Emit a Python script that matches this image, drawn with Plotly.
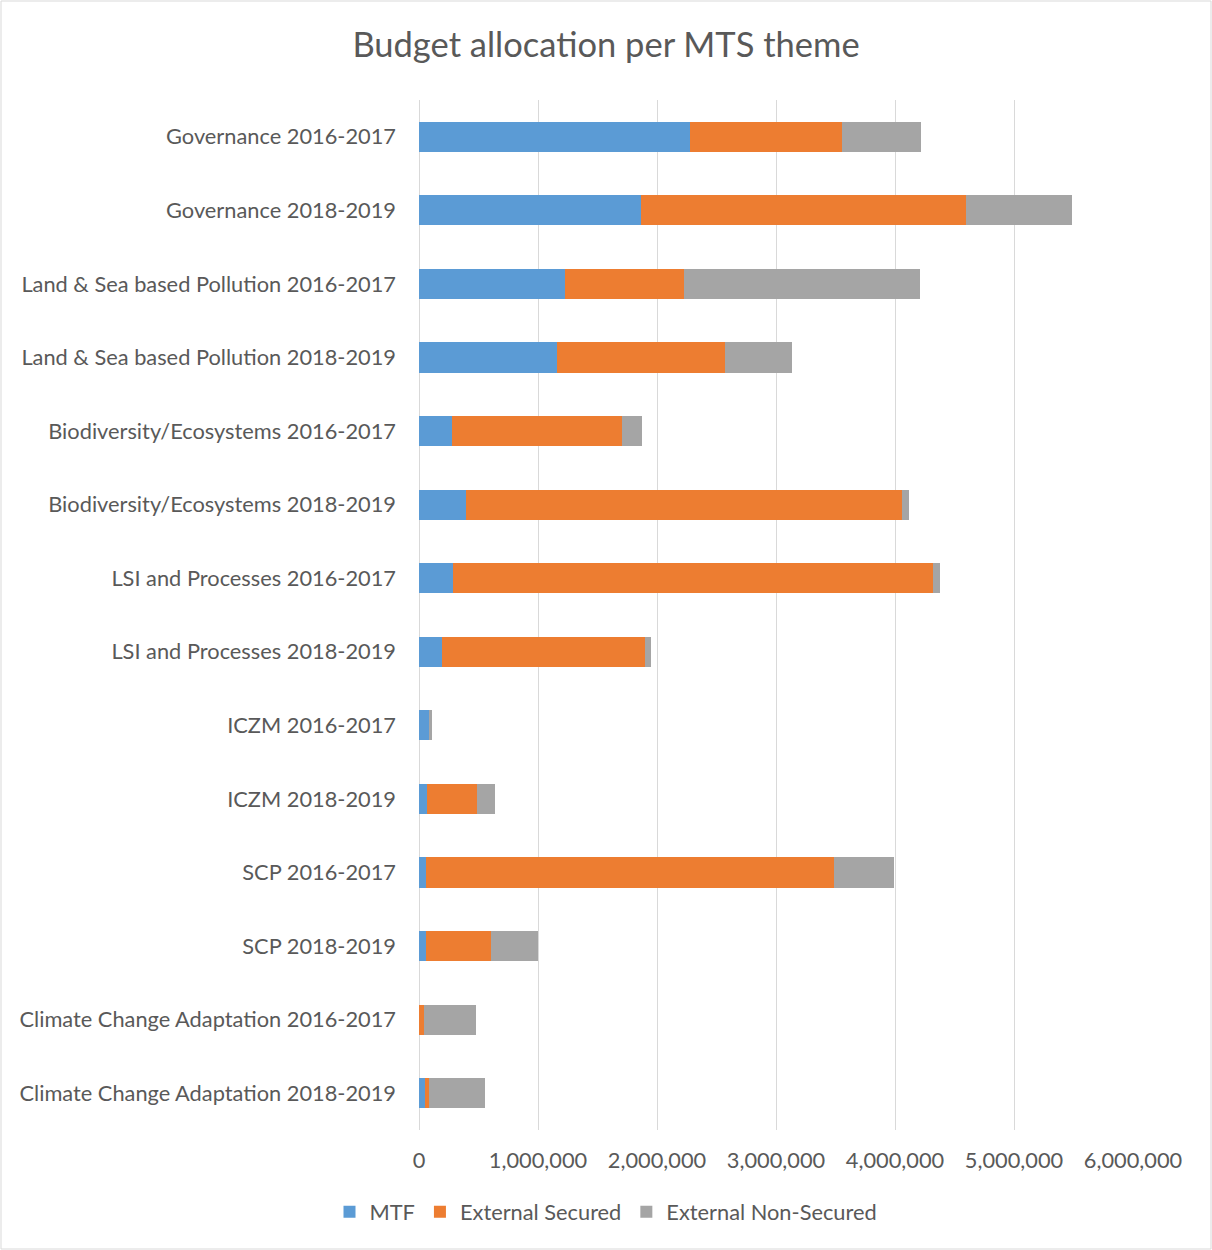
import plotly.graph_objects as go

categories = [
    "Governance 2016-2017",
    "Governance 2018-2019",
    "Land & Sea based Pollution 2016-2017",
    "Land & Sea based Pollution 2018-2019",
    "Biodiversity/Ecosystems 2016-2017",
    "Biodiversity/Ecosystems 2018-2019",
    "LSI and Processes 2016-2017",
    "LSI and Processes 2018-2019",
    "ICZM 2016-2017",
    "ICZM 2018-2019",
    "SCP 2016-2017",
    "SCP 2018-2019",
    "Climate Change Adaptation 2016-2017",
    "Climate Change Adaptation 2018-2019",
]

mtf = [2277000, 1866000, 1227000, 1160000, 277000, 395000, 286000, 193000,
       92000, 70000, 56000, 56000, 0, 53000]
external_secured = [1278000, 2731000, 1000000, 1412000, 1429000, 3664000, 4034000, 1706000,
                    0, 415000, 3431000, 549000, 42000, 31000]
external_non_secured = [664000, 891000, 1983000, 563000, 168000, 59000, 59000, 50000,
                        13000, 151000, 504000, 398000, 434000, 471000]

series_names = ["MTF", "External Secured", "External Non-Secured"]
colors = ["#5B9BD5", "#ED7D31", "#A5A5A5"]

W, H = 1212, 1250
L, R, T, B = 419, 79, 100, 120
font_family = "Lato, 'Open Sans', sans-serif"
text_color = "#595959"
fs = 21.8

fig = go.Figure()
for name, vals, col in zip(series_names, [mtf, external_secured, external_non_secured], colors):
    fig.add_trace(go.Bar(
        y=categories, x=vals, name=name, orientation="h",
        marker=dict(color=col, line=dict(width=0)),
    ))

pw = W - L - R
ph = H - T - B
fig.update_layout(
    width=W, height=H,
    barmode="stack",
    bargap=0.59,
    paper_bgcolor="white",
    plot_bgcolor="white",
    margin=dict(l=L, r=R, t=T, b=B, autoexpand=False),
    font=dict(family=font_family, color=text_color, size=fs),
    title=dict(text="Budget allocation per MTS theme", x=0.5, xref="container",
               xanchor="center", y=1 - 45 / H, yref="container", yanchor="middle",
               font=dict(size=34.5, color=text_color, family=font_family)),
    xaxis=dict(range=[0, 6000000], dtick=1000000, tickformat=",d",
               showgrid=True, gridcolor="#D9D9D9", gridwidth=1.3,
               zeroline=True, zerolinecolor="#D9D9D9", zerolinewidth=1.3,
               showline=False, ticks="", ticklabelstandoff=15,
               tickfont=dict(size=fs, color=text_color)),
    yaxis=dict(categoryorder="array", categoryarray=categories, autorange="reversed",
               showgrid=False, showline=False, ticks="", ticklabelstandoff=22,
               tickfont=dict(size=fs, color=text_color)),
    legend=dict(orientation="h", x=0.5, xref="container", xanchor="center",
                y=1 - 1212 / H, yref="container", yanchor="middle",
                font=dict(size=fs, color=text_color), traceorder="normal",
                itemwidth=30),
    shapes=[dict(type="rect", xref="paper", yref="paper",
                 x0=-(L - 1) / pw, x1=1 + (R - 1) / pw,
                 y0=-(B - 1) / ph, y1=1 + (T - 1) / ph,
                 line=dict(color="#D9D9D9", width=1), layer="below")],
)

fig.write_html("out.html", config={"displayModeBar": False},
               post_script="document.body.style.margin='0';document.body.style.padding='0';")
